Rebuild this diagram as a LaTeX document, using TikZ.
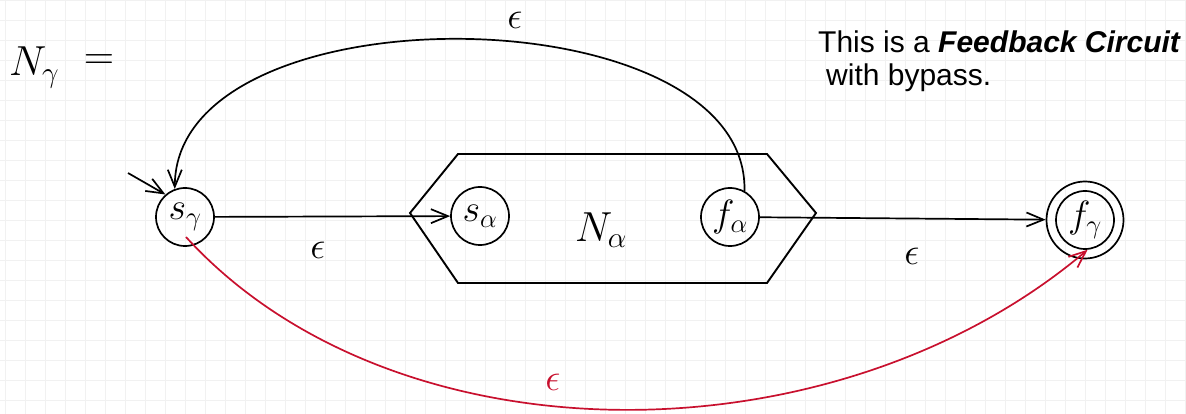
\documentclass[tikz,border=0pt]{standalone}
\usepackage{fix-cm}
\usepackage{fontspec}
\newfontfamily\arialfont{Liberation Sans}
\usetikzlibrary{arrows.meta,calc}
\definecolor{edgered}{RGB}{200,16,46}
\definecolor{gridgray}{RGB}{241,241,241}
\tikzset{
  state/.style={circle, draw, line width=1.7pt, minimum size=58pt, inner sep=0pt,
    font=\fontsize{38}{44}\selectfont},
  ring/.style={circle, draw, line width=1.7pt, minimum size=77pt, inner sep=0pt},
  edge/.style={line width=1.7pt, -{Straight Barb[length=17pt,width=14pt,line width=1.7pt]}},
  redge/.style={edge, draw=edgered},
  lbl/.style={font=\fontsize{38}{44}\selectfont, inner sep=0pt},
  big/.style={font=\fontsize{42}{48}\selectfont, inner sep=0pt},
  note/.style={font=\arialfont\fontsize{30}{34}\selectfont, inner sep=0pt},
  hexbox/.style={draw, line width=1.9pt, line join=miter}
}
\begin{document}
\begin{tikzpicture}[x=1pt,y=-1pt]
\useasboundingbox (0,0) rectangle (1186,414);
% faint grid
\foreach \gx in {5,25,...,1185} \draw[gridgray, line width=0.9pt] (\gx,0) -- (\gx,414);
\foreach \gy in {0,20,...,414} \draw[gridgray, line width=0.9pt] (0,\gy) -- (1186,\gy);

% title
\node[big, anchor=base west] (ng) at (9,76) {$N_\gamma$};
\node[big] (eq) at (99,62) {$=$};

% note
\node[note, anchor=base west] (n1) at (818,53) {This is a \textbf{\textit{Feedback Circuit}}};
\node[note, anchor=base west] (n2) at (826,86) {with bypass.};

% inner automaton box
\draw[hexbox] (410,213) -- (458,154) -- (767,154) -- (816,213) -- (767,283) -- (458,283) -- cycle;
\node[big] (na) at (601,230) {$N_\alpha$};

% states
\node[state] (sg) at (185,217) {$s_\gamma$};
\node[state] (sa) at (480,216) {$s_\alpha$};
\node[state] (fa) at (730,217) {$f_\alpha$};
\node[state] (fg) at (1085,220) {$f_\gamma$};
\node[ring] (fgo) at (1085,220) {};

% initial arrow
\coordinate (init) at (128,173);
\draw[edge] (init) -- (sg.131);

% transitions
\draw[edge] (sg) -- (sa);
\node[lbl] (e1) at (318,250) {$\epsilon$};

\draw[edge] (fa) -- (fgo);
\node[lbl] (e2) at (912,256) {$\epsilon$};

\draw[edge] (fa.61) .. controls (749,-8) and (175,-14) .. (sg.110);
\node[lbl] (e3) at (515,20) {$\epsilon$};

\coordinate (rs) at ($(sg)+(1,20)$);
\draw[redge] (rs) .. controls (394,465) and (833,465) .. (fg.-85);
\node[lbl, text=edgered] (e4) at (553,382) {$\epsilon$};
\end{tikzpicture}
\end{document}
